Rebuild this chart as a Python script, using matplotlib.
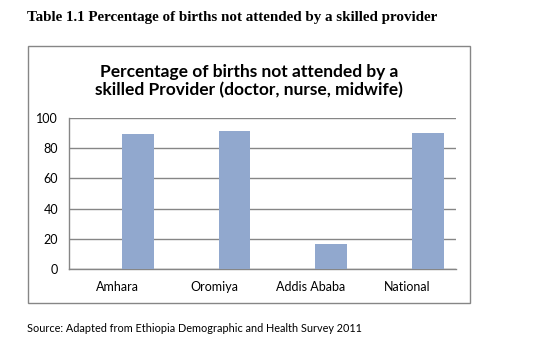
import matplotlib
matplotlib.use("Agg")
import numpy as np
import matplotlib.pyplot as plt
from matplotlib.patches import Rectangle

regions = ["Amhara", "Oromiya", "Addis Ababa", "National"]
not_attended = [89.8, 91.8, 16.3, 90.4]
y_ticks = [0, 20, 40, 60, 80, 100]

bar_color = "#91a8ce"
line_color = "#868686"

fig = plt.figure(figsize=(5.55, 3.48), dpi=100)
fig.patch.set_facecolor("white")

# heading above the chart frame
fig.text(0.049, 0.951, "Table 1.1 Percentage of births not attended by a skilled provider",
         family="Liberation Serif", weight="bold", fontsize=10.8, va="center", ha="left")

# chart frame
fig.patches.append(Rectangle((0.0505, 0.129), 0.7965, 0.739, transform=fig.transFigure,
                             fill=False, edgecolor=line_color, linewidth=1.0))

fig.text(0.4486, 0.767, "Percentage of births not attended by a\nskilled Provider (doctor, nurse, midwife)",
         family="Lato", weight="bold", fontsize=12.5, ha="center", va="center",
         linespacing=1.15)

ax = fig.add_axes([0.1249, 0.2279, 0.6963, 0.4322])
x = np.arange(len(regions))
ax.bar(x + 0.21, not_attended, width=0.33, color=bar_color, zorder=3)

ax.set_xlim(-0.5, len(regions) - 0.5)
ax.set_ylim(0, 100)
ax.set_yticks(y_ticks)
ax.set_xticks(x)
ax.set_xticklabels(regions)
ax.yaxis.grid(True, color=line_color, linewidth=1.0, zorder=0)
ax.tick_params(axis="both", length=0, labelsize=9, colors="black")
ax.tick_params(axis="y", pad=8)
ax.tick_params(axis="x", pad=9)
for lab in ax.get_xticklabels() + ax.get_yticklabels():
    lab.set_family("Lato")
for side in ["top", "right"]:
    ax.spines[side].set_visible(False)
for side in ["left", "bottom"]:
    ax.spines[side].set_color(line_color)
    ax.spines[side].set_linewidth(1.0)

fig.text(0.049, 0.057, "Source: Adapted from Ethiopia Demographic and Health Survey 2011",
         family="Lato", fontsize=7.8, ha="left", va="center")

fig.savefig("out.png", dpi=100)
